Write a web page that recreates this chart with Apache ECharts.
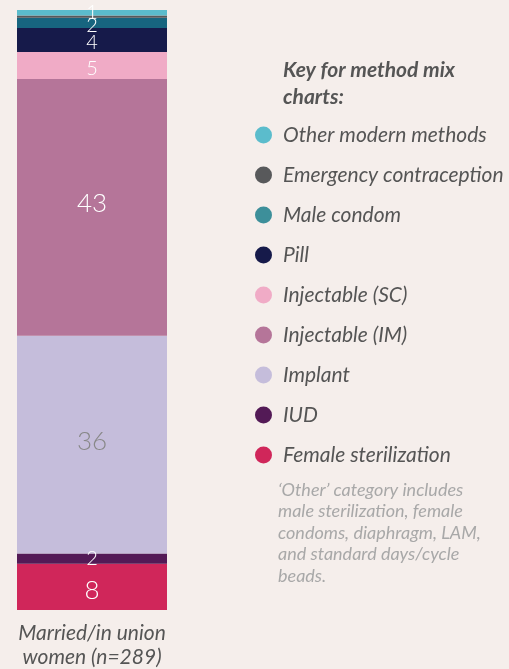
<!DOCTYPE html>
<html>
<head>
<meta charset="utf-8">
<script src="https://cdn.jsdelivr.net/npm/echarts@6/dist/echarts.min.js"></script>
<style>
  html, body { margin: 0; padding: 0; background: #f5eeeb; }
  #chart { width: 509px; height: 669px; }
</style>
</head>
<body>
<div id="chart"></div>
<script>
// method mix data, bottom of the bar first
var categories = ['Married/in union\nwomen (n=289)'];
var methods = ['Female sterilization', 'IUD', 'Implant', 'Injectable (IM)', 'Injectable (SC)',
    'Pill', 'Male condom', 'Emergency contraception', 'Other modern methods'];
var shares = [7.7, 1.7, 36.3, 42.8, 4.5, 4.0, 1.7, 0.4, 0.9];
var barColors = ['#d0265a', '#531a56', '#c5bddb', '#b57599', '#f0abc6',
    '#161a4a', '#17657f', '#58595b', '#5bbccc'];
var keyColors = ['#d0265a', '#531a56', '#c5bddb', '#b57599', '#f0abc6',
    '#161a4a', '#3d8f9a', '#58595b', '#5bbccc'];
var labelColors = ['#fff', '#fff', '#888', '#fff', '#fff', '#fff', '#fff', '#fff', '#fff'];
var labelShift = [4, 0, -3, -4, 3, 3, 3, 0, 0];

var myChart = echarts.init(document.getElementById('chart'));

var series = methods.map(function (name, i) {
    var v = shares[i];
    return {
        name: name,
        type: 'bar',
        stack: 'mix',
        barWidth: '100%',
        itemStyle: { color: barColors[i] },
        label: {
            show: Math.round(v) > 0,
            position: 'inside',
            offset: [0, labelShift[i]],
            color: labelColors[i],
            fontFamily: 'Lato',
            fontWeight: 300,
            fontSize: v > 6 ? 26 : 20,
            formatter: function (p) { return Math.round(p.value); }
        },
        data: [v]
    };
});

var option = {
    backgroundColor: '#f5eeeb',
    animation: false,
    title: {
        text: 'Key for method mix\ncharts:',
        left: 283,
        top: 57,
        padding: 0,
        textStyle: {
            fontFamily: 'Lato',
            fontStyle: 'italic',
            fontWeight: 'bold',
            fontSize: 21,
            lineHeight: 27,
            color: '#555'
        }
    },
    legend: {
        orient: 'vertical',
        left: 255,
        top: 124,
        padding: 0,
        icon: 'circle',
        itemWidth: 17,
        itemHeight: 17,
        itemGap: 18,
        selectedMode: false,
        data: methods.slice().reverse().map(function (name) {
            return { name: name, itemStyle: { color: keyColors[methods.indexOf(name)] } };
        }),
        textStyle: {
            fontFamily: 'Lato',
            fontStyle: 'italic',
            fontSize: 21,
            lineHeight: 22,
            color: '#555',
            padding: [0, 0, 0, 6]
        }
    },
    grid: {
        left: 17,
        top: 10,
        width: 150,
        height: 600
    },
    xAxis: {
        type: 'category',
        data: categories,
        axisLine: { show: false },
        axisTick: { show: false },
        axisLabel: {
            margin: 11,
            fontFamily: 'Lato',
            fontStyle: 'italic',
            fontSize: 21,
            lineHeight: 24,
            color: '#555'
        }
    },
    yAxis: {
        type: 'value',
        min: 0,
        max: 100,
        show: false
    },
    graphic: [{
        type: 'text',
        left: 278,
        top: 479,
        style: {
            text: '‘Other’ category includes\nmale sterilization, female\ncondoms, diaphragm, LAM,\nand standard days/cycle\nbeads.',
            fontFamily: 'Lato',
            fontStyle: 'italic',
            fontSize: 18,
            lineHeight: 21.5,
            fill: '#a8a8a8'
        }
    }],
    series: series
};

myChart.setOption(option);
</script>
</body>
</html>
